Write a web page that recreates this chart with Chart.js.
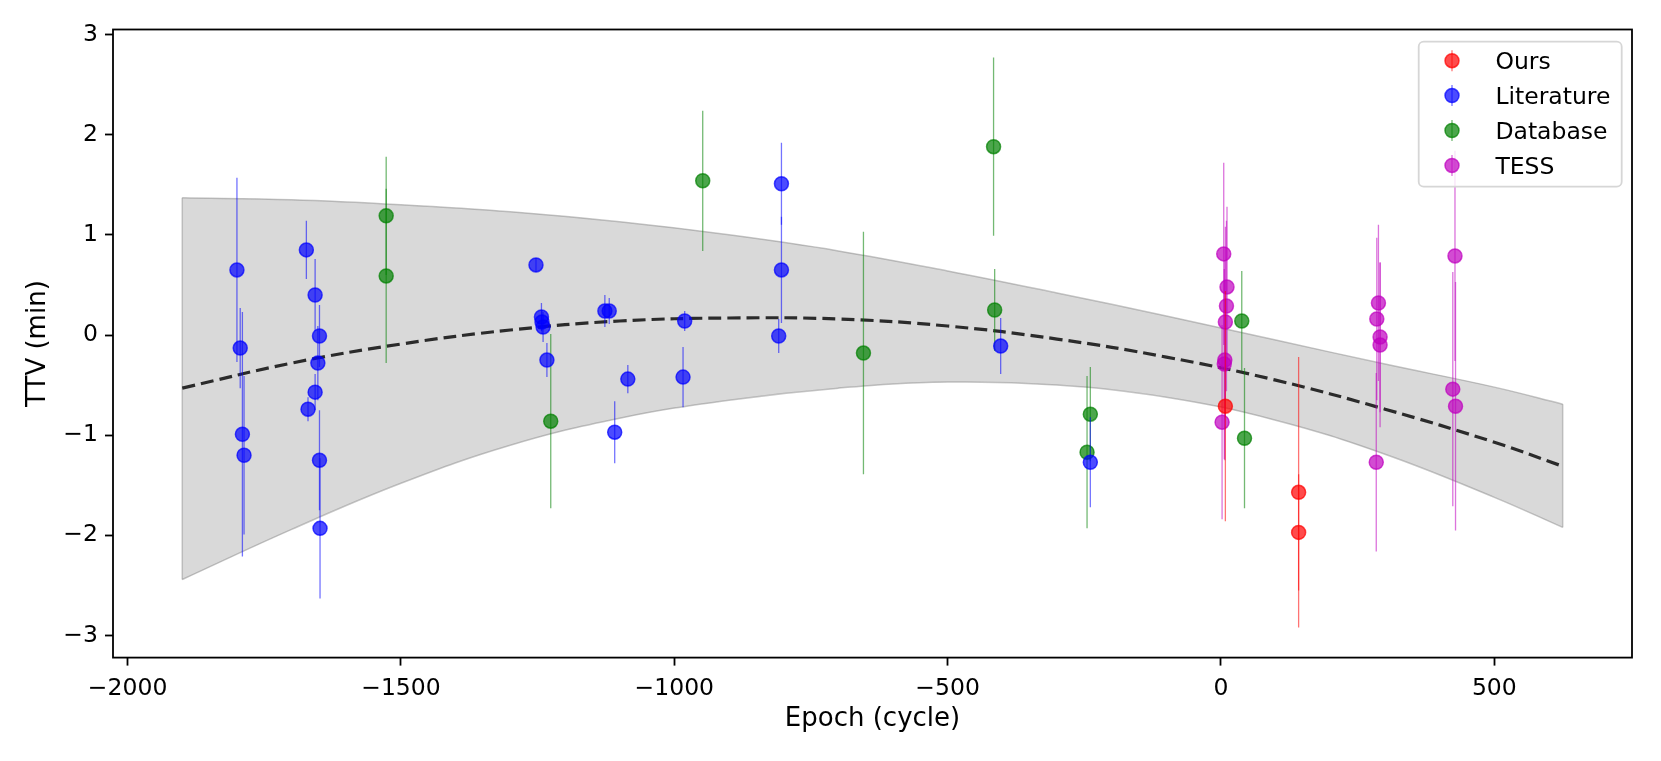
<!DOCTYPE html>
<html>
<head>
<meta charset="utf-8">
<script src="https://cdn.jsdelivr.net/npm/chart.js@4.4.1/dist/chart.umd.min.js"></script>
<style>
  html, body { margin: 0; padding: 0; background: #fff; }
  #wrap { width: 1661px; height: 761px; }
</style>
</head>
<body>
<div id="wrap"><canvas id="ttv" width="1661" height="761"></canvas></div>
<script>
// Ours
const oursEpoch = [8, 142, 142];
const oursTtv = [-0.71, -1.57, -1.97];
const oursErr = [1.15, 1.35, 0.58];

// Literature
const litEpoch = [-1800, -1794, -1790, -1787, -1673, -1657, -1649, -1652, -1657, -1670, -1649, -1648,
  -1253, -1243, -1242, -1240, -1233, -1127, -1119, -1085, -1109, -981, -984, -804, -804, -809, -403, -239];
const litTtv = [0.65, -0.13, -0.99, -1.20, 0.85, 0.40, -0.01, -0.28, -0.57, -0.74, -1.25, -1.93,
  0.70, 0.18, 0.13, 0.08, -0.25, 0.24, 0.24, -0.44, -0.97, 0.14, -0.42, 1.51, 0.65, -0.01, -0.11, -1.27];
const litErr = [0.92, 0.40, 1.22, 0.79, 0.29, 0.36, 0.31, 0.37, 0.18, 0.12, 0.50, 0.70,
  0.07, 0.14, 0.12, 0.15, 0.17, 0.16, 0.13, 0.14, 0.31, 0.10, 0.30, 0.41, 0.53, 0.17, 0.28, 0.45];

// Database
const dbEpoch = [-1527, -1527, -1226, -948, -654, -416, -414, -239, -245, 38, 43];
const dbTtv = [1.19, 0.59, -0.86, 1.54, -0.18, 1.88, 0.25, -0.79, -1.17, 0.14, -1.03];
const dbErr = [0.59, 0.87, 0.87, 0.70, 1.21, 0.89, 0.41, 0.47, 0.76, 0.50, 0.70];

// TESS
const tessEpoch = [5, 11, 10, 8, 7, 6, 2, 288, 285, 291, 291, 284, 428, 424, 429];
const tessTtv = [0.81, 0.48, 0.29, 0.13, -0.25, -0.29, -0.87, 0.32, 0.16, -0.02, -0.10, -1.27, 0.79, -0.54, -0.71];
const tessErr = [0.91, 0.80, 0.85, 0.95, 1.00, 0.95, 0.97, 0.78, 0.81, 0.75, 0.82, 0.89, 1.05, 1.17, 1.24];

// quadratic fit and its confidence band
const fitEpoch = [-1900, -1700, -1500, -1300, -1100, -900, -700, -500, -300, -100, 100, 300, 500, 625];
const fitTtv = [-0.53, -0.28, -0.09, 0.05, 0.14, 0.17, 0.16, 0.09, -0.04, -0.22, -0.45, -0.74, -1.07, -1.31];
const bandUpper = [1.37, 1.35, 1.30, 1.23, 1.13, 1.00, 0.84, 0.64, 0.42, 0.19, -0.05, -0.29, -0.52, -0.69];
const bandLower = [-2.44, -1.94, -1.48, -1.10, -0.83, -0.65, -0.53, -0.47, -0.50, -0.62, -0.85, -1.19, -1.62, -1.92];

const xTickValues = [-2000, -1500, -1000, -500, 0, 500];
const yTickValues = [-3, -2, -1, 0, 1, 2, 3];

const FONT = 'DejaVu Sans';
Chart.defaults.font.family = FONT;
Chart.defaults.font.size = 23.5;
Chart.defaults.color = '#000';

const fmt = (v) => String(v).replace('-', '\u2212');

function pointSet(label, epochs, ttvs, errs, rgb) {
  return {
    label,
    data: epochs.map((e, i) => ({ x: e, y: ttvs[i] })),
    errors: errs,
    errorColor: `rgba(${rgb},0.55)`,
    backgroundColor: `rgba(${rgb},0.7)`,
    borderColor: `rgba(${rgb},0.7)`,
    borderWidth: 1.5,
    pointRadius: 7,
    pointHoverRadius: 7,
    showLine: false
  };
}

function curve(epochs, values) {
  return epochs.map((e, i) => ({ x: e, y: values[i] }));
}

// vertical error bars, drawn just before each series' markers
const errorBars = {
  id: 'errorBars',
  beforeDatasetDraw(chart, args) {
    const ds = chart.data.datasets[args.index];
    if (!ds.errors) return;
    const { ctx, chartArea, scales: { x, y } } = chart;
    ctx.save();
    ctx.beginPath();
    ctx.rect(chartArea.left, chartArea.top, chartArea.width, chartArea.height);
    ctx.clip();
    ctx.strokeStyle = ds.errorColor;
    ctx.lineWidth = 1.3;
    ds.data.forEach((p, i) => {
      const px = x.getPixelForValue(p.x);
      ctx.beginPath();
      ctx.moveTo(px, y.getPixelForValue(p.y + ds.errors[i]));
      ctx.lineTo(px, y.getPixelForValue(p.y - ds.errors[i]));
      ctx.stroke();
    });
    ctx.restore();
  }
};

// closing sides of the band polygon
const bandEdges = {
  id: 'bandEdges',
  beforeDatasetsDraw(chart) {
    const { ctx, scales: { x, y } } = chart;
    const last = fitEpoch.length - 1;
    ctx.save();
    ctx.strokeStyle = 'rgba(128,128,128,0.45)';
    ctx.lineWidth = 1.5;
    [0, last].forEach((i) => {
      const px = x.getPixelForValue(fitEpoch[i]);
      ctx.beginPath();
      ctx.moveTo(px, y.getPixelForValue(bandUpper[i]));
      ctx.lineTo(px, y.getPixelForValue(bandLower[i]));
      ctx.stroke();
    });
    ctx.restore();
  }
};

const frame = {
  id: 'frame',
  afterDatasetsDraw(chart) {
    const { ctx, chartArea: a } = chart;
    ctx.save();
    ctx.strokeStyle = '#000';
    ctx.lineWidth = 1.8;
    ctx.strokeRect(a.left, a.top, a.width, a.height);
    ctx.restore();
  }
};

const legendBox = {
  id: 'legendBox',
  afterDraw(chart) {
    const { ctx, chartArea: a } = chart;
    const items = chart.data.datasets.filter((d) => d.errors);
    const boxW = 203, boxH = 145, rowH = 34.9;
    const bx = a.right - 10.3 - boxW;
    const by = a.top + 12.2;
    ctx.save();
    ctx.beginPath();
    ctx.roundRect(bx, by, boxW, boxH, 5);
    ctx.fillStyle = 'rgba(255,255,255,0.8)';
    ctx.fill();
    ctx.strokeStyle = '#d6d6d6';
    ctx.lineWidth = 1.8;
    ctx.stroke();
    ctx.font = `23.5px "${FONT}"`;
    ctx.textBaseline = 'alphabetic';
    items.forEach((d, i) => {
      const cy = by + 19 + i * rowH;
      const mx = bx + 33.3;
      ctx.strokeStyle = d.errorColor;
      ctx.lineWidth = 1.3;
      ctx.beginPath();
      ctx.moveTo(mx, cy - 10.5);
      ctx.lineTo(mx, cy + 10.5);
      ctx.stroke();
      ctx.beginPath();
      ctx.arc(mx, cy, 7, 0, Math.PI * 2);
      ctx.fillStyle = d.backgroundColor;
      ctx.fill();
      ctx.strokeStyle = d.borderColor;
      ctx.lineWidth = 1.5;
      ctx.stroke();
      ctx.fillStyle = '#000';
      ctx.fillText(d.label, bx + 76.7, cy + 8.6);
    });
    ctx.restore();
  }
};

new Chart(document.getElementById('ttv'), {
  type: 'scatter',
  data: {
    datasets: [
      pointSet('Ours', oursEpoch, oursTtv, oursErr, '255,0,0'),
      pointSet('Literature', litEpoch, litTtv, litErr, '0,0,255'),
      pointSet('Database', dbEpoch, dbTtv, dbErr, '0,128,0'),
      pointSet('TESS', tessEpoch, tessTtv, tessErr, '191,0,191'),
      {
        label: 'fit',
        data: curve(fitEpoch, fitTtv),
        showLine: true,
        borderColor: 'rgba(0,0,0,0.8)',
        borderWidth: 3.2,
        borderDash: [13, 6],
        tension: 0.4,
        pointRadius: 0,
        pointHoverRadius: 0
      },
      {
        label: 'upper',
        data: curve(fitEpoch, bandUpper),
        showLine: true,
        fill: '+1',
        backgroundColor: 'rgba(128,128,128,0.3)',
        borderColor: 'rgba(128,128,128,0.45)',
        borderWidth: 1.5,
        tension: 0.4,
        pointRadius: 0,
        pointHoverRadius: 0
      },
      {
        label: 'lower',
        data: curve(fitEpoch, bandLower),
        showLine: true,
        borderColor: 'rgba(128,128,128,0.45)',
        borderWidth: 1.5,
        tension: 0.4,
        pointRadius: 0,
        pointHoverRadius: 0
      }
    ]
  },
  options: {
    responsive: false,
    devicePixelRatio: 1,
    animation: false,
    layout: { padding: { top: 29.5, right: 29, left: 0, bottom: 0 } },
    plugins: {
      legend: { display: false },
      tooltip: { enabled: false }
    },
    scales: {
      x: {
        type: 'linear',
        min: -2026.7,
        max: 751.8,
        afterBuildTicks: (s) => { s.ticks = xTickValues.map((v) => ({ value: v })); },
        afterFit: (s) => { s.height = 103.4; },
        ticks: { callback: fmt, padding: 9, maxRotation: 0, autoSkip: false, includeBounds: false },
        grid: { drawOnChartArea: false, drawTicks: true, tickLength: 8, tickWidth: 1.8, tickColor: '#000', color: '#000' },
        border: { display: false },
        title: { display: true, text: 'Epoch (cycle)', font: { size: 26 }, padding: { top: 0, bottom: 26 } }
      },
      y: {
        type: 'linear',
        min: -3.22,
        max: 3.05,
        afterBuildTicks: (s) => { s.ticks = yTickValues.map((v) => ({ value: v })); },
        afterFit: (s) => { s.width = 113; },
        ticks: { callback: fmt, padding: 7, includeBounds: false },
        grid: { drawOnChartArea: false, drawTicks: true, tickLength: 8, tickWidth: 1.8, tickColor: '#000', color: '#000' },
        border: { display: false },
        title: { display: true, text: 'TTV (min)', font: { size: 26 }, padding: { top: 22.5, bottom: 0 } }
      }
    }
  },
  plugins: [errorBars, bandEdges, frame, legendBox]
});
</script>
</body>
</html>
